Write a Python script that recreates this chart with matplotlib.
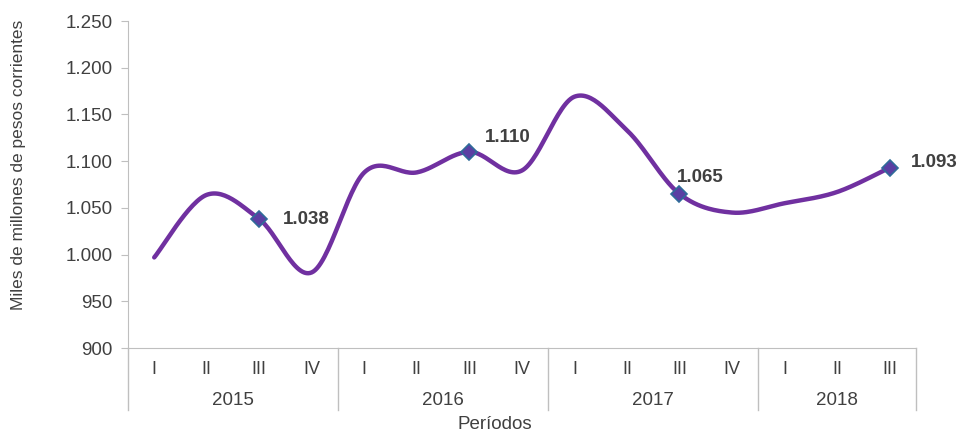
import numpy as np
import matplotlib.pyplot as plt
from matplotlib.transforms import blended_transform_factory

plt.rcParams['font.family'] = ['Liberation Sans', 'DejaVu Sans']

# data
quarters = ['I', 'II', 'III', 'IV', 'I', 'II', 'III', 'IV',
            'I', 'II', 'III', 'IV', 'I', 'II', 'III']
years = ['2015', '2016', '2017', '2018']
year_sizes = [4, 4, 4, 3]
values = [997, 1064, 1038, 981, 1088, 1088, 1110, 1090,
          1169, 1133, 1065, 1045, 1055, 1067, 1093]
labeled = [2, 6, 10, 14]
label_offsets = [(17, 0), (11, 10), (-2, 12), (15, 4)]


def smooth(x, y, n=30):
    # catmull-rom curve through the points, like the office "smoothed line"
    x = np.asarray(x, float)
    y = np.asarray(y, float)
    px = np.concatenate([[x[0]], x, [x[-1]]])
    py = np.concatenate([[y[0]], y, [y[-1]]])
    xs, ys = [], []
    t = np.linspace(0, 1, n)
    for i in range(1, len(px) - 2):
        p0, p1, p2, p3 = px[i - 1], px[i], px[i + 1], px[i + 2]
        q0, q1, q2, q3 = py[i - 1], py[i], py[i + 1], py[i + 2]
        c1x, c1y = p1 + (p2 - p0) / 6, q1 + (q2 - q0) / 6
        c2x, c2y = p2 - (p3 - p1) / 6, q2 - (q3 - q1) / 6
        b = [(1 - t) ** 3, 3 * (1 - t) ** 2 * t, 3 * (1 - t) * t ** 2, t ** 3]
        xs.append(b[0] * p1 + b[1] * c1x + b[2] * c2x + b[3] * p2)
        ys.append(b[0] * q1 + b[1] * c1y + b[2] * c2y + b[3] * q2)
    return np.concatenate(xs), np.concatenate(ys)


fig = plt.figure(figsize=(9.6, 4.34), dpi=100)
ax = fig.add_axes([0.1333, 0.198, 0.8207, 0.7536])

x = np.arange(len(values))
sx, sy = smooth(x, values)
ax.plot(sx, sy, color='#7030a0', lw=3.2, solid_capstyle='round', zorder=2)
ax.plot(x[labeled], np.array(values)[labeled], ls='none', marker='D', ms=8,
        mfc='#5b3fa3', mec='#2f6b99', mew=1.2, zorder=3)

for i, (dx, dy) in zip(labeled, label_offsets):
    txt = f'{values[i]:,}'.replace(',', '.')
    ax.annotate(txt, (x[i], values[i]), xytext=(dx, dy), textcoords='offset points',
                ha='left', va='center', fontsize=13.5, fontweight='bold', color='#404040')

ax.set_xlim(-0.5, len(values) - 0.5)
ax.set_ylim(900, 1250)
ax.set_yticks(np.arange(900, 1251, 50))
ax.set_yticklabels([f'{v:,}'.replace(',', '.') for v in range(900, 1251, 50)],
                   fontsize=13.5, color='#404040')
ax.tick_params(axis='y', length=5, color='#bfbfbf', pad=6)
ax.set_xticks(x)
ax.set_xticklabels(quarters, fontsize=13, color='#404040')
ax.tick_params(axis='x', length=0, pad=9)

for s in ['top', 'right']:
    ax.spines[s].set_visible(False)
ax.spines['left'].set_color('#bfbfbf')
ax.spines['bottom'].set_color('#bfbfbf')

trans = blended_transform_factory(ax.transData, ax.transAxes)
low = -0.19
edges = np.concatenate([[0], np.cumsum(year_sizes)]) - 0.5
for e in edges:
    ax.plot([e, e], [0, low], transform=trans, color='#bfbfbf', lw=1, clip_on=False)
for k, yr in enumerate(years):
    mid = (edges[k] + edges[k + 1]) / 2
    ax.text(mid, -0.16, yr, transform=trans, ha='center', va='center',
            fontsize=13.5, color='#404040')

ax.text(0.466, -0.233, 'Períodos', transform=ax.transAxes, ha='center', va='center',
        fontsize=13.5, color='#404040')
fig.text(0.019, 0.62, 'Miles de millones de pesos corrientes', rotation=90,
         ha='center', va='center', fontsize=12.5, color='#404040')

fig.savefig('out.png', dpi=100)
